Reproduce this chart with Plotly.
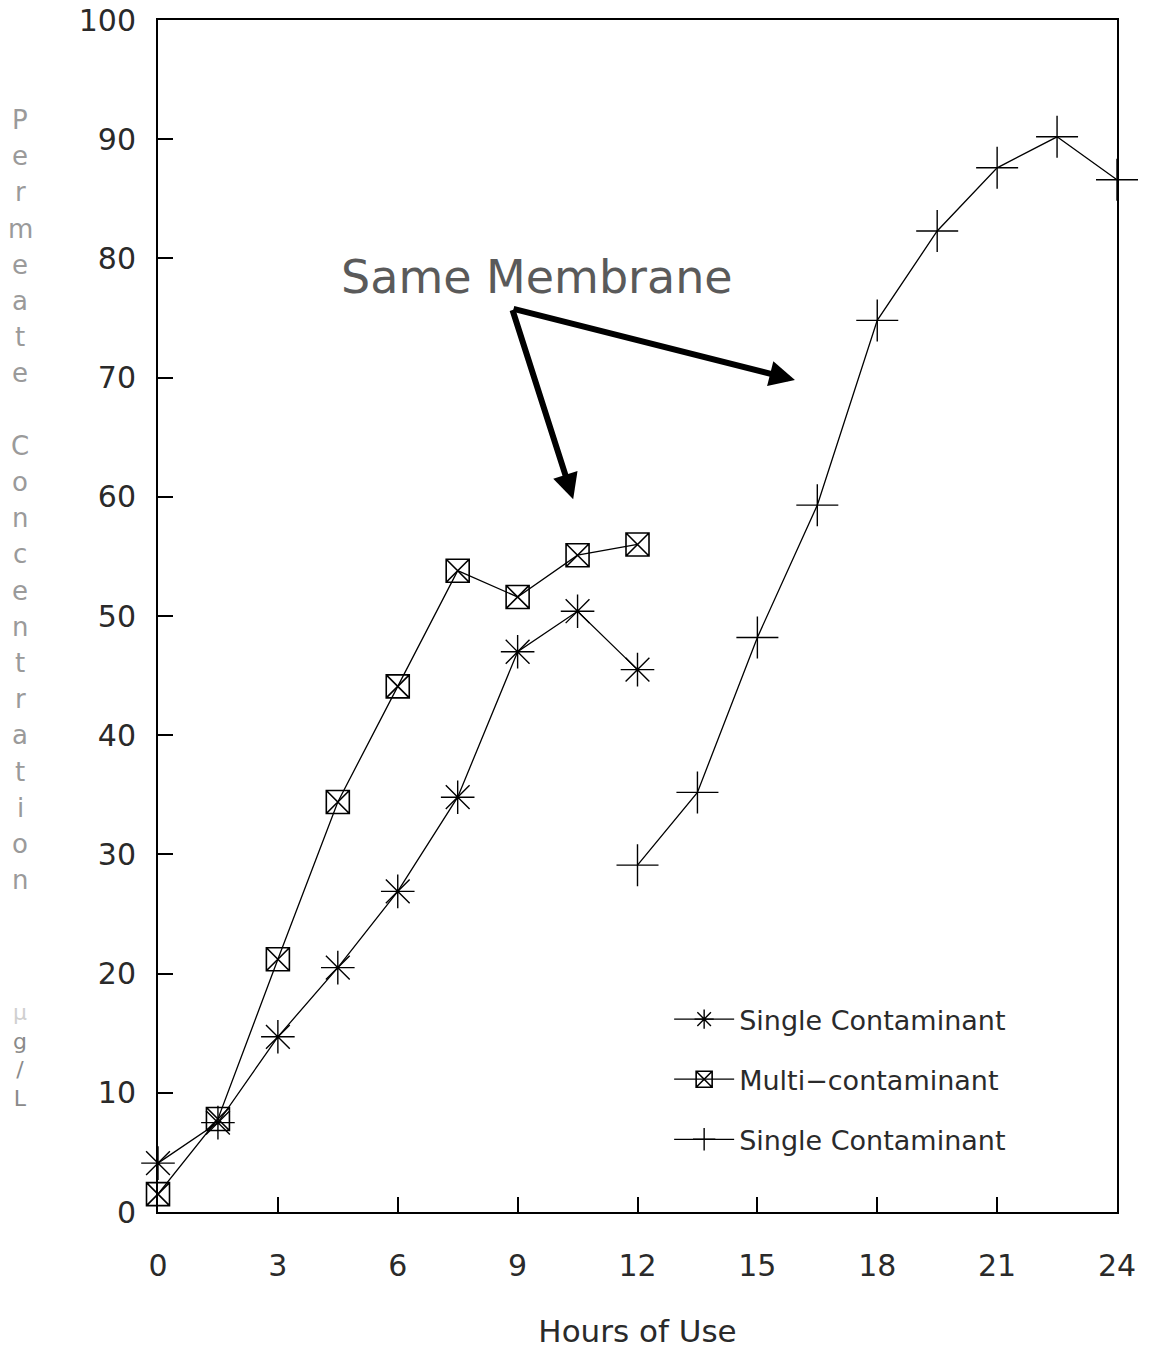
import plotly.graph_objects as go

hours = [0, 1.5, 3, 4.5, 6, 7.5, 9, 10.5, 12]
single_a = [4.1, 7.5, 14.7, 20.5, 26.9, 34.8, 47.0, 50.4, 45.5]
multi = [1.5, 7.8, 21.2, 34.4, 44.1, 53.8, 51.6, 55.1, 56.0]
hours_b = [12, 13.5, 15, 16.5, 18, 19.5, 21, 22.5, 24]
single_b = [29.1, 35.2, 48.2, 59.3, 74.8, 82.3, 87.6, 90.2, 86.6]

x_ticks = [0, 3, 6, 9, 12, 15, 18, 21, 24]
y_ticks = [0, 10, 20, 30, 40, 50, 60, 70, 80, 90, 100]

FONT = "DejaVu Sans"
INK = "#2a2a2a"

# page has an 8px body margin, so the figure is sized to fit the window
W, H = 1143, 1343
ML, MR, MT, MB = 150, 34, 12, 139
PW, PH = W - ML - MR, H - MT - MB

fig = go.Figure()
fig.add_trace(go.Scatter(
    x=hours, y=single_a, mode="lines+markers", name="Single Contaminant",
    legendgroup="a", cliponaxis=False,
    line=dict(color="black", width=1.3),
    marker=dict(symbol="asterisk-open", size=28, color="black", line=dict(width=1.4, color="black")),
))
fig.add_trace(go.Scatter(
    x=hours, y=multi, mode="lines+markers", name="Multi\u2212contaminant",
    legendgroup="b", cliponaxis=False,
    line=dict(color="black", width=1.3),
    marker=dict(symbol="square-x-open", size=23, color="black", line=dict(width=1.6, color="black")),
))
fig.add_trace(go.Scatter(
    x=hours_b, y=single_b, mode="lines+markers", name="Single Contaminant",
    legendgroup="c", cliponaxis=False,
    line=dict(color="black", width=1.3),
    marker=dict(symbol="cross-thin-open", size=30, color="black", line=dict(width=1.4, color="black")),
))

# "Same Membrane" annotation and arrows
fig.add_annotation(x=9.48, y=78.4, xref="x", yref="y", text="Same Membrane", showarrow=False,
                   font=dict(family=FONT, size=46, color="#5a5a5a"))
tail = (8.86, 75.8)
for hx, hy in [(10.39, 59.8), (15.94, 69.8)]:
    fig.add_annotation(x=hx, y=hy, ax=tail[0], ay=tail[1], xref="x", yref="y", axref="x", ayref="y",
                       text="", showarrow=True, arrowhead=2, arrowsize=0.85, arrowwidth=6,
                       arrowcolor="black", standoff=0, startstandoff=0)

# stacked vertical y-axis title (page pixel positions -> paper fractions)
def px_to_paper_y(py):
    return (MT + PH - (py - 8)) / PH

lab_x = (20 - 8 - ML) / PW
label_chars = list("Permeate Concentration")
start_px, step_px = 120, 36.2
for i, ch in enumerate(label_chars):
    if ch == " ":
        continue
    py = start_px + i * step_px
    fig.add_annotation(x=lab_x, y=px_to_paper_y(py), xref="paper", yref="paper",
                       text=ch, showarrow=False, xanchor="center", yanchor="middle",
                       font=dict(family=FONT, size=26, color="#9a9a9a"))
fig.add_annotation(x=lab_x, y=px_to_paper_y(1055), xref="paper", yref="paper",
                   text="<span style='color:#d0d0d0'>\u00b5</span><br>g<br>/<br>L", showarrow=False,
                   xanchor="center", yanchor="middle",
                   font=dict(family=FONT, size=22, color="#8a8a8a"))

axis_common = dict(
    showgrid=False, zeroline=False, showline=True, linecolor="black", linewidth=2,
    mirror=True, ticks="inside", ticklen=15, tickwidth=1.5, tickcolor="black",
    tickfont=dict(family=FONT, size=30, color=INK), ticklabeloverflow="allow",
)
fig.update_xaxes(range=[0, 24], tickvals=x_ticks, ticktext=[str(v) for v in x_ticks],
                 ticklabelstandoff=26,
                 title=dict(text="Hours of Use", font=dict(family=FONT, size=31, color=INK), standoff=38),
                 **axis_common)
fig.update_yaxes(range=[0, 100], tickvals=y_ticks, ticktext=[str(v) for v in y_ticks],
                 ticklabelstandoff=14, **axis_common)

fig.update_layout(
    width=W, height=H,
    margin=dict(l=ML, r=MR, t=MT, b=MB, autoexpand=False),
    plot_bgcolor="white", paper_bgcolor="white",
    showlegend=True,
    legend=dict(x=0.533, y=0.182, xanchor="left", yanchor="top", bgcolor="rgba(0,0,0,0)",
                traceorder="grouped", tracegroupgap=22, itemwidth=60,
                font=dict(family=FONT, size=27, color=INK)),
)

fig.write_html("out.html")
